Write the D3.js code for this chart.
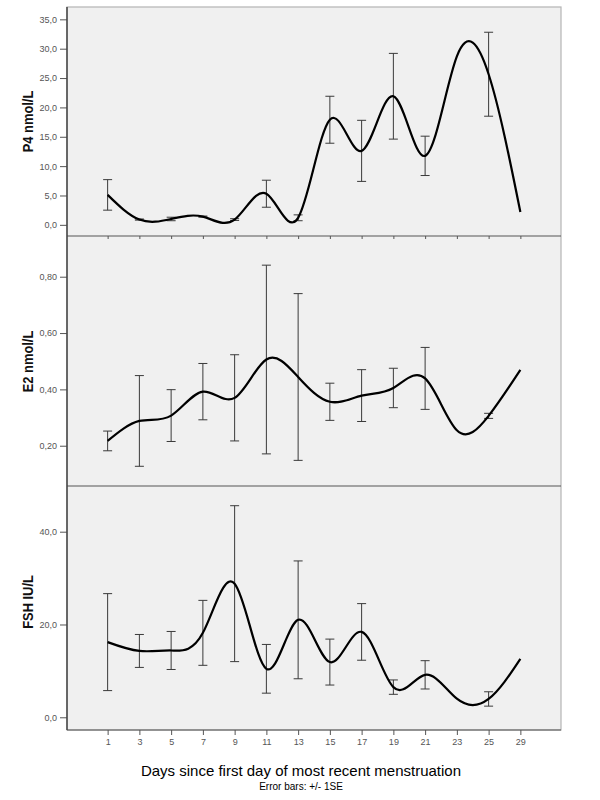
<!DOCTYPE html>
<meta charset="utf-8">
<style>
body { margin: 0; background: #fff; }
svg { display: block; }
.tick text { font: 9px "Liberation Sans", Arial, sans-serif; fill: #555; }
.ylab { font: bold 15px "Liberation Sans", Arial, sans-serif; fill: #111; }
</style>
<body>
<svg width="600" height="800"></svg>
<script src="https://cdn.jsdelivr.net/npm/d3@7/dist/d3.min.js"></script>
<script>

// days (categorical axis)
var days = ["1", "3", "5", "7", "9", "11", "13", "15", "17", "19", "21", "23", "25", "29"];

// progesterone, nmol/L
var p4Mean = [5.1, 0.9, 1.0, 1.4, 0.9, 5.3, 1.2, 17.9, 12.6, 21.9, 11.75, 28.7, 25.65, 2.2];
var p4SE   = [2.6, 0.1, 0.3, 0.1, 0.15, 2.3, 0.5, 4.0, 5.2, 7.3, 3.35, null, 7.15, null];

// estradiol, nmol/L
var e2Mean = [0.217, 0.288, 0.307, 0.392, 0.37, 0.506, 0.444, 0.356, 0.378, 0.405, 0.439, 0.255, 0.306, 0.469];
var e2SE   = [0.035, 0.161, 0.092, 0.10, 0.153, 0.335, 0.296, 0.066, 0.092, 0.07, 0.11, null, 0.009, null];

// FSH, IU/L
var fshMean = [16.2, 14.3, 14.4, 18.2, 28.8, 10.45, 21.0, 11.9, 18.4, 6.5, 9.15, 4.0, 3.95, 12.6];
var fshSE   = [10.45, 3.55, 4.1, 7.0, 16.8, 5.25, 12.7, 4.95, 6.1, 1.55, 3.05, null, 1.55, null];

var p4Ticks = [0, 5, 10, 15, 20, 25, 30, 35];
var e2Ticks = [0.2, 0.4, 0.6, 0.8];
var fshTicks = [0, 20, 40];

var svg = d3.select("svg");
var left = 67, right = 561;

var x = d3.scalePoint()
    .domain(days)
    .range([left, right])
    .padding(1.28);

var comma = fmt => v => d3.format(fmt)(v).replace(".", ",");

var panels = [
  { label: "P4 nmol/L", mean: p4Mean, se: p4SE, top: 7, bottom: 236,
    domain: [-1.9, 37.1], ticks: p4Ticks, fmt: comma(".1f") },
  { label: "E2 nmol/L", mean: e2Mean, se: e2SE, top: 237, bottom: 486,
    domain: [0.057, 0.941], ticks: e2Ticks, fmt: comma(".2f") },
  { label: "FSH IU/L", mean: fshMean, se: fshSE, top: 486, bottom: 730,
    domain: [-2.74, 49.85], ticks: fshTicks, fmt: comma(".1f") }
];

// plot background
svg.append("rect")
    .attr("x", left).attr("y", 7)
    .attr("width", right - left).attr("height", 730 - 7)
    .attr("fill", "#f0f0f0")
    .attr("stroke", "#b4b4b4")
    .attr("stroke-width", 1.2);

panels.forEach(function(p, i) {
  var y = d3.scaleLinear().domain(p.domain).range([p.bottom, p.top]);
  var g = svg.append("g");

  // separator / bottom line
  g.append("line")
      .attr("x1", left).attr("x2", right)
      .attr("y1", p.bottom).attr("y2", p.bottom)
      .attr("stroke", "#555").attr("stroke-width", 1.2);

  // y axis
  g.append("g")
      .attr("transform", `translate(${left},0)`)
      .call(d3.axisLeft(y).tickValues(p.ticks).tickFormat(p.fmt).tickSize(7).tickPadding(3))
      .call(a => a.select(".domain").remove())
      .call(a => a.selectAll(".tick line").attr("stroke", "#555"));

  g.append("text")
      .attr("class", "ylab")
      .attr("transform", `translate(33,${(p.top + p.bottom) / 2 - (i == 2 ? 6 : 0)}) rotate(-90) scale(0.86,1)`)
      .attr("text-anchor", "middle")
      .text(p.label);

  // error bars
  var pts = days.map((d, k) => ({ day: d, m: p.mean[k], se: p.se[k] }));
  var eb = g.append("g").attr("stroke", "#3a3a3a").attr("stroke-width", 1)
    .selectAll("g")
    .data(pts.filter(d => d.se != null))
    .enter().append("g");
  eb.append("line")
      .attr("x1", d => x(d.day)).attr("x2", d => x(d.day))
      .attr("y1", d => y(d.m - d.se)).attr("y2", d => y(d.m + d.se));
  eb.append("line")
      .attr("x1", d => x(d.day) - 4.5).attr("x2", d => x(d.day) + 4.5)
      .attr("y1", d => y(d.m + d.se)).attr("y2", d => y(d.m + d.se));
  eb.append("line")
      .attr("x1", d => x(d.day) - 4.5).attr("x2", d => x(d.day) + 4.5)
      .attr("y1", d => y(d.m - d.se)).attr("y2", d => y(d.m - d.se));

  // interpolated line
  g.append("path")
      .datum(pts)
      .attr("fill", "none")
      .attr("stroke", "#000")
      .attr("stroke-width", 2.2)
      .attr("d", d3.line().x(d => x(d.day)).y(d => y(d.m)).curve(d3.curveNatural));

  if (i == 0) {
    // small category ticks under the first panel
    g.append("g")
        .attr("transform", `translate(0,${p.bottom})`)
        .call(d3.axisBottom(x).tickSize(3).tickFormat(""))
        .call(a => a.select(".domain").remove())
        .call(a => a.selectAll(".tick line").attr("stroke", "#555"));
  }
});

// x axis
svg.append("g")
    .attr("transform", "translate(0,730)")
    .call(d3.axisBottom(x).tickSize(5).tickPadding(4))
    .call(a => a.select(".domain").remove())
    .call(a => a.selectAll(".tick line").attr("stroke", "#555"));

// left axis line
svg.append("line")
    .attr("x1", left).attr("x2", left)
    .attr("y1", 7).attr("y2", 730)
    .attr("stroke", "#444").attr("stroke-width", 1.5);

svg.append("text")
    .attr("x", 301).attr("y", 776)
    .attr("text-anchor", "middle")
    .style("font", "15px 'Liberation Sans', Arial, sans-serif")
    .text("Days since first day of most recent menstruation");

svg.append("text")
    .attr("x", 301).attr("y", 790)
    .attr("text-anchor", "middle")
    .style("font", "10px 'Liberation Sans', Arial, sans-serif")
    .text("Error bars: +/- 1SE");

</script>
</body>
